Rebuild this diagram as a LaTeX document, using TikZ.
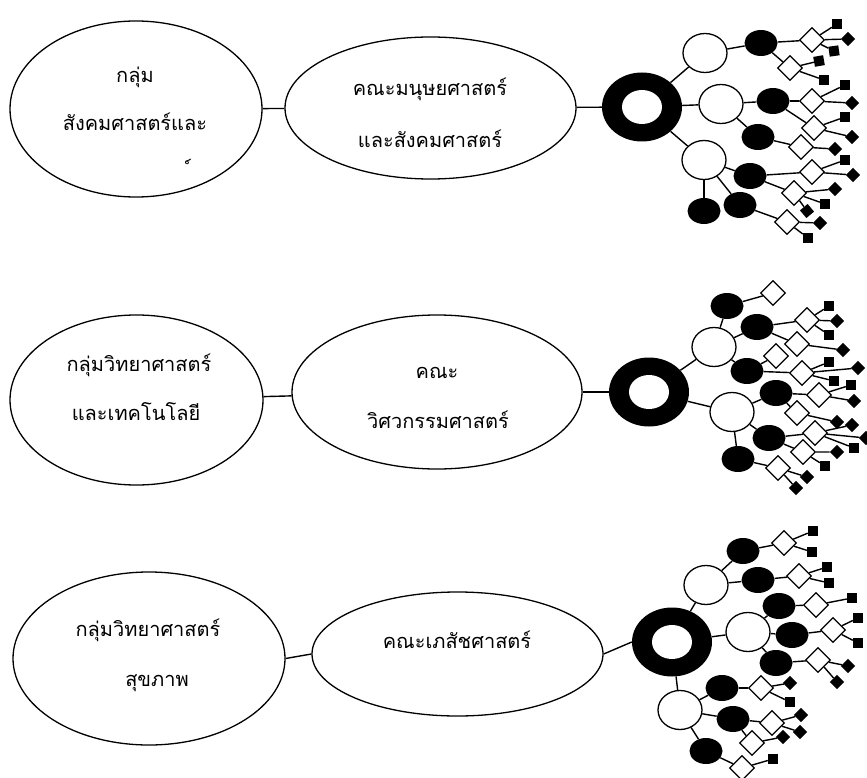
\documentclass[tikz,border=0pt]{standalone}
\usepackage{fontspec}
\newfontfamily\thaifont[Script=Thai]{Loma}
\usetikzlibrary{shapes.geometric}
\tikzset{
  oval/.style={ellipse, draw, line width=1.3pt, inner sep=0pt},
  lbl/.style={font=\thaifont\fontsize{20}{20}\selectfont, inner sep=0pt, anchor=base},
  link/.style={line width=1.4pt},
  ring/.style={ellipse, fill=black, minimum width=80pt, minimum height=69pt, inner sep=0pt},
  wnode/.style={ellipse, draw, fill=white, line width=1.3pt, minimum width=44pt, minimum height=39pt, inner sep=0pt},
  bnode/.style={ellipse, fill=black, minimum width=33pt, minimum height=26pt, inner sep=0pt},
  wdia/.style={diamond, draw, fill=white, line width=1.3pt, minimum width=25pt, minimum height=25pt, inner sep=0pt},
  leaf/.style={rectangle, fill=black, minimum size=10pt, inner sep=0pt},
}
\begin{document}
\begin{tikzpicture}[x=1pt, y=-1pt]
\useasboundingbox (0,0) rectangle (867,778);

% ---------- group and faculty ovals ----------
\node[oval, minimum width=252pt, minimum height=176pt] (L1) at (136,109) {};
\node[oval, minimum width=291pt, minimum height=142pt] (M1) at (430.5,108) {};
\node[oval, minimum width=253pt, minimum height=170pt] (L2) at (136.5,400) {};
\node[oval, minimum width=290pt, minimum height=154pt] (M2) at (437,392) {};
\node[oval, minimum width=272pt, minimum height=173pt] (L3) at (149,658.5) {};
\node[oval, minimum width=291pt, minimum height=124pt] (M3) at (457.5,654) {};

\node[lbl] (t1a) at (135,83) {กลุ่ม};
\node[lbl] (t1b) at (135,131) {สังคมศาสตร์และ};
\node[lbl] (t1c) at (191,181) {์};
\node[lbl] (t2a) at (430,96) {คณะมนุษยศาสตร์};
\node[lbl] (t2b) at (430,148) {และสังคมศาสตร์};
\node[lbl] (t3a) at (139,371) {กลุ่มวิทยาศาสตร์};
\node[lbl] (t3b) at (136,420) {และเทคโนโลยี};
\node[lbl] (t4a) at (437,378) {คณะ};
\node[lbl] (t4b) at (438,428) {วิศวกรรมศาสตร์};
\node[lbl] (t5a) at (148,636) {กลุ่มวิทยาศาสตร์};
\node[lbl] (t5b) at (157,686) {สุขภาพ};
\node[lbl] (t6a) at (457,648) {คณะเภสัชศาสตร์};

% ---------- hubs ----------
\node[ring] (R1) at (642,107) {};
\node[ring] (R2) at (649,392) {};
\node[ring] (R3) at (672,642) {};
\foreach \r in {R1,R2,R3}
  \fill[white] (\r.center) ellipse [x radius=20pt, y radius=17pt];

\draw[link] (L1) -- (M1);
\draw[link] (M1) -- (R1);
\draw[link] (L2) -- (M2);
\draw[link] (M2) -- (R2);
\draw[link] (L3.east) -- (M3.west);
\draw[link] (M3.east) -- (R3.west);

% ---------- tree 1 ----------
\node[wnode] (W1a) at (705,53) {};
\node[wnode] (W1b) at (721,104) {};
\node[wnode] (W1c) at (704,160) {};
\foreach \n/\x/\y/\p in {b1a/761/43/W1a, b1b/773/101/W1b, b1c/758/137/W1b,
    b1d/750/176/W1c, b1e/740/205/W1c, b1f/704/211/W1c}
  {\node[bnode] (\n) at (\x,\y) {}; \draw[link] (\p) -- (\n);}
\foreach \n/\x/\y/\p in {d1a/812/40/b1a, d1b/790/68/b1a, d1c/812/101/b1b,
    d1d/814/128/b1b, d1e/801/147/b1c, d1f/812/172/b1d, d1g/794/193/b1d, d1h/787/222/b1e}
  {\node[wdia] (\n) at (\x,\y) {}; \draw[link] (\p) -- (\n);}
\foreach \w in {W1a,W1b,W1c} \draw[link] (R1) -- (\w);
\foreach \n/\x/\y/\p/\r in {
    l1a/837/24/d1a/0, l1b/848/39/d1a/45, l1c/834/51/d1a/8,
    l1d/819/61/d1b/10, l1e/824/80/d1b/0,
    l1f/845/85/d1c/0, l1g/852/103/d1c/45,
    l1h/845/117/d1d/0, l1i/852/137/d1d/45,
    l1j/835/149/d1e/45,
    l1k/845/160/d1f/0, l1l/853/175/d1f/45,
    l1m/835/189/d1g/45, l1n/825/204/d1g/0, l1o/807/211/d1g/40,
    l1p/820/223/d1h/45, l1q/808/238/d1h/0}
  {\node[leaf, rotate=\r] (\n) at (\x,\y) {}; \draw[link] (\p) -- (\n);}

% ---------- tree 2 ----------
\node[wnode] (W2a) at (714,347) {};
\node[wnode] (W2b) at (732,412) {};
\foreach \n/\x/\y/\p in {b2a/727/306/W2a, b2b/757/327/W2a, b2c/747/371/W2a,
    b2d/776/393/W2b, b2e/769/438/W2b, b2f/738/459/W2b}
  {\node[bnode] (\n) at (\x,\y) {}; \draw[link] (\p) -- (\n);}
\foreach \n/\x/\y/\p in {d2a/773/293/b2a, d2b/807/320/b2b, d2c/797/344/b2b,
    d2d/776/356/b2c, d2e/802/373/b2c, d2f/819/395/b2d, d2g/797/413/b2d,
    d2h/815/433/b2e, d2i/803/452/b2e, d2j/778/468/b2f}
  {\node[wdia] (\n) at (\x,\y) {}; \draw[link] (\p) -- (\n);}
\foreach \w in {W2a,W2b} \draw[link] (R2) -- (\w);
\foreach \n/\x/\y/\p/\r in {
    l2a/829/306/d2b/0, l2b/837/321/d2b/45, l2c/829/335/d2b/0,
    l2d/843/350/d2c/45,
    l2e/829/362/d2e/0, l2f/858/368/d2e/45, l2g/834/381/d2e/0,
    l2h/851/385/d2f/0, l2i/854/401/d2f/45,
    l2j/837/422/d2g/45,
    l2k/852/425/d2h/45, l2l/866/438/d2h/45, l2m/854/448/d2h/0,
    l2n/837/452/d2i/45, l2o/825/466/d2i/0,
    l2p/807/477/d2j/45, l2q/796/488/d2j/45}
  {\node[leaf, rotate=\r] (\n) at (\x,\y) {}; \draw[link] (\p) -- (\n);}

% ---------- tree 3 ----------
\node[wnode] (W3a) at (706,585) {};
\node[wnode] (W3b) at (748,632) {};
\node[wnode] (W3c) at (680,710) {};
\foreach \n/\x/\y/\p in {b3a/743/551/W3a, b3b/758/580/W3a, b3c/779/606/W3b,
    b3d/792/635/W3b, b3e/776/663/W3b, b3f/722/688/W3c, b3g/733/719/W3c, b3h/706/751/W3c}
  {\node[bnode] (\n) at (\x,\y) {}; \draw[link] (\p) -- (\n);}
\foreach \n/\x/\y/\p in {d3a/784/543/b3a, d3b/799/576/b3b, d3c/816/605/b3c,
    d3d/833/630/b3d, d3e/818/660/b3e, d3f/761/688/b3f, d3g/772/723/b3g,
    d3h/752/743/b3g, d3i/742/768/b3h}
  {\node[wdia] (\n) at (\x,\y) {}; \draw[link] (\p) -- (\n);}
\foreach \w in {W3a,W3b,W3c} \draw[link] (R3) -- (\w);
\foreach \n/\x/\y/\p/\r in {
    l3a/813/531/d3a/0, l3b/812/552/d3a/0,
    l3c/827/567/d3b/0, l3d/829/583/d3b/0,
    l3e/852/598/d3c/0,
    l3f/858/618/d3d/0, l3g/858/643/d3d/0,
    l3h/848/666/d3e/45, l3i/837/682/d3e/45,
    l3j/790/683/d3f/45, l3k/790/702/d3f/0,
    l3l/801/715/d3g/45, l3m/800/732/d3g/45,
    l3n/783/737/d3h/45,
    l3o/773/759/d3i/0}
  {\node[leaf, rotate=\r] (\n) at (\x,\y) {}; \draw[link] (\p) -- (\n);}
\end{tikzpicture}
\end{document}
